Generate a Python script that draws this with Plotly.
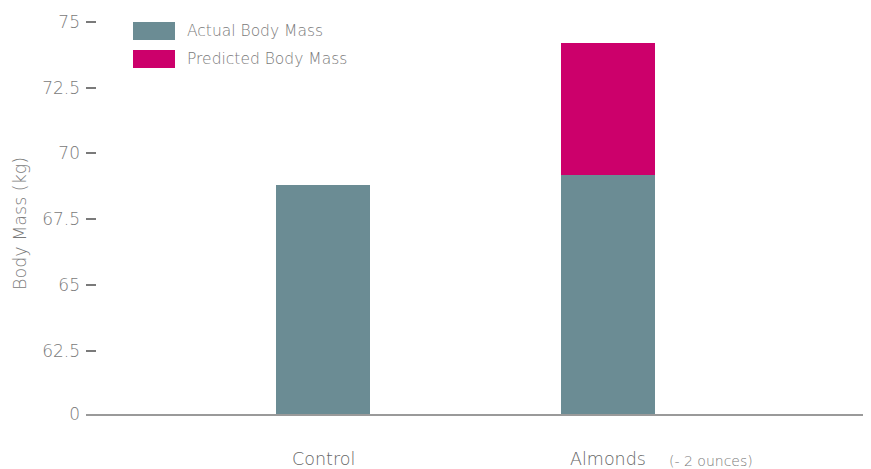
import plotly.graph_objects as go

categories = ["Control", "Almonds"]
cat_pos = [0, 1]
actual_mass = [68.8, 69.2]
predicted_extra = [None, 5.0]
y_tick_vals = [60.1, 62.5, 65, 67.5, 70, 72.5, 75]
y_tick_text = ["0", "62.5", "65", "67.5", "70", "72.5", "75"]
legend_labels = ["Actual Body Mass", "Predicted Body Mass"]

TEAL = "#6B8C94"
MAGENTA = "#CC006B"
FONT = "DejaVu Sans"
W = 200
TXT = "#7a7a7a"

# page has an 8px body margin; the figure is sized so the plot lands at page x 86..868, y 10..414
PL, PR, PT, PB = 86, 868, 10, 414
PW, PH = PR - PL, PB - PT

fig = go.Figure()
fig.add_trace(go.Bar(x=cat_pos, y=actual_mass, name=legend_labels[0],
                     marker=dict(color=TEAL, line=dict(width=0)), width=0.33, showlegend=False))
fig.add_trace(go.Bar(x=cat_pos, y=predicted_extra, name=legend_labels[1],
                     marker=dict(color=MAGENTA, line=dict(width=0)), width=0.33, showlegend=False))

fig.update_layout(
    width=863, height=461,
    barmode="stack",
    plot_bgcolor="white", paper_bgcolor="white",
    margin=dict(l=PL - 8, r=863 - (PR - 8), t=PT - 8, b=461 - (PB - 8), autoexpand=False),
    font=dict(family=FONT, color=TXT),
    xaxis=dict(range=[-0.832, 1.912], tickvals=cat_pos, ticktext=["", ""],
               showgrid=False, zeroline=False, showline=True, linecolor="#9a9a9a",
               linewidth=2, ticks="", automargin=False),
    yaxis=dict(range=[60.1, 75.45], tickvals=y_tick_vals, ticktext=y_tick_text,
               showgrid=False, zeroline=False, showline=False, automargin=False,
               ticks="inside", ticklen=10, tickwidth=1.5, tickcolor="#7a7a7a",
               ticklabelstandoff=5,
               tickfont=dict(size=17, color=TXT, family=FONT, weight=W)),
)

# y axis title
fig.add_annotation(xref="paper", yref="paper", x=-PL / PW, xshift=20, y=(PB - 224) / PH,
                   text="Body Mass (kg)", textangle=-90, showarrow=False,
                   xanchor="center", yanchor="middle", borderpad=0,
                   font=dict(size=17.5, color=TXT, family=FONT, weight=W))

# x category labels
for xp, lab in zip(cat_pos, categories):
    fig.add_annotation(xref="x", yref="paper", x=xp, y=0, yshift=-(459 - PB),
                       text=lab, showarrow=False, xanchor="center", yanchor="middle",
                       font=dict(size=17.5, color="#666666", family=FONT, weight=W))

fig.add_annotation(xref="x", yref="paper", x=(667 - 323) / 285, y=0, yshift=-(461 - PB),
                   text="(- 2 ounces)", showarrow=False, xanchor="left", yanchor="middle",
                   font=dict(size=14, color=TXT, family=FONT, weight=W))

# custom legend
leg_colors = [TEAL, MAGENTA]
for i, (lab, col) in enumerate(zip(legend_labels, leg_colors)):
    y0 = (PB - (22 + i * 28)) / PH
    y1 = (PB - (40 + i * 28)) / PH
    fig.add_shape(type="rect", xref="paper", yref="paper",
                  x0=(133 - PL) / PW, x1=(175 - PL) / PW, y0=y1, y1=y0,
                  fillcolor=col, line=dict(width=0))
    fig.add_annotation(xref="paper", yref="paper", x=(185 - PL) / PW, y=(y0 + y1) / 2,
                       text=lab, showarrow=False, xanchor="left", yanchor="middle",
                       font=dict(size=15.5, color=TXT, family=FONT, weight=W))

fig.write_html("out.html")
